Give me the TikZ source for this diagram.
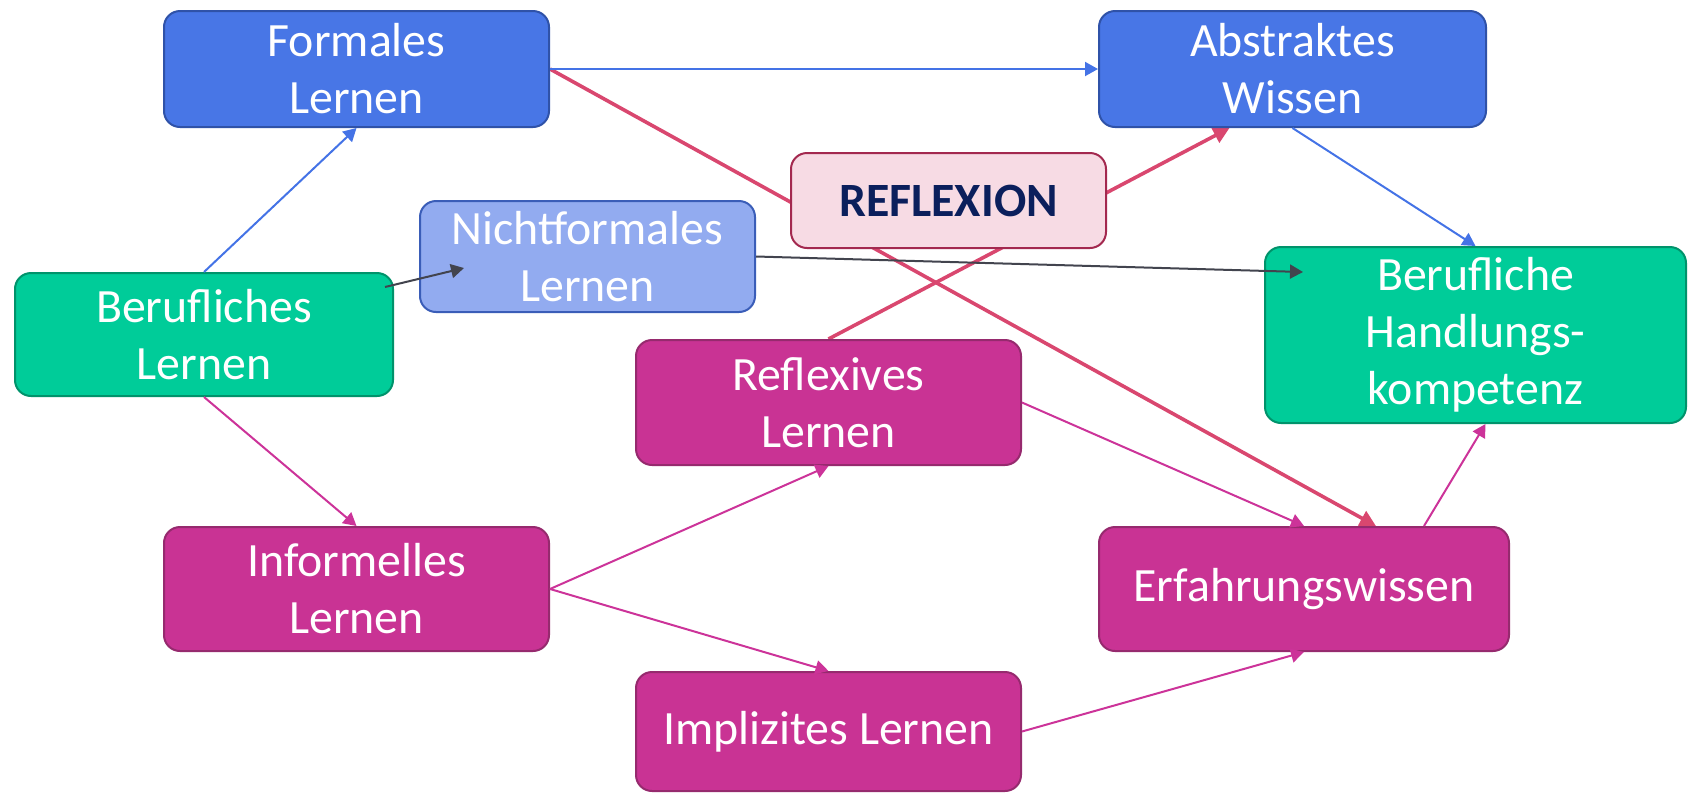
\documentclass[tikz,border=0pt]{standalone}
\usepackage{fontspec}
\setmainfont{Carlito}
\usetikzlibrary{arrows.meta,calc}
\definecolor{blueFill}{HTML}{4876E6}
\definecolor{blueDraw}{HTML}{2F52A8}
\definecolor{nichtFill}{HTML}{92ABF0}
\definecolor{nichtDraw}{HTML}{3A5DB8}
\definecolor{greenFill}{HTML}{00CC99}
\definecolor{greenDraw}{HTML}{00936B}
\definecolor{magFill}{HTML}{C93394}
\definecolor{magDraw}{HTML}{962A6E}
\definecolor{reflFill}{HTML}{F7DBE4}
\definecolor{reflDraw}{HTML}{A3294F}
\definecolor{reflText}{HTML}{0B1F5C}
\definecolor{crimsonLine}{HTML}{D9476F}
\definecolor{magLine}{HTML}{CC3399}
\definecolor{blueLine}{HTML}{4473E6}
\definecolor{grayLine}{HTML}{42444E}
\pgfdeclarelayer{background}
\pgfsetlayers{background,main}
\tikzset{
  box/.style={rounded corners=8pt, line width=1pt, inner sep=0pt, align=center,
    text=white, font=\fontsize{23.9}{28.5}\selectfont},
  bluebox/.style={box, fill=blueFill, draw=blueDraw},
  nichtbox/.style={box, fill=nichtFill, draw=nichtDraw},
  greenbox/.style={box, fill=greenFill, draw=greenDraw},
  magbox/.style={box, fill=magFill, draw=magDraw},
  reflbox/.style={box, fill=reflFill, draw=reflDraw, text=reflText, font=\fontsize{23.9}{28.5}\selectfont\bfseries},
  conn/.style={line width=1pt, -{Triangle[length=6.5pt,width=7pt]}},
  blueconn/.style={conn, draw=blueLine, fill=blueLine},
  magconn/.style={conn, draw=magLine, fill=magLine},
  grayconn/.style={conn, draw=grayLine, fill=grayLine},
  crimsonconn/.style={line width=1.8pt, draw=crimsonLine, fill=crimsonLine, -{Triangle[length=8pt,width=8pt]}}
}
\begin{document}
\begin{tikzpicture}[x=0.5pt,y=-0.5pt]
\useasboundingbox (0,0) rectangle (1688,794);

\node[bluebox, minimum width=192.5pt, minimum height=58pt] (formal) at (356.5,69) {Formales\\Lernen};
\node[bluebox, minimum width=193.5pt, minimum height=58pt] (abstr) at (1292.5,69) {Abstraktes\\Wissen};
\node[reflbox, minimum width=157.5pt, minimum height=47.5pt] (refl) at (948.5,200.5) {REFLEXION};
\node[nichtbox, minimum width=167.5pt, minimum height=55.5pt] (nicht) at (587.5,256.5) {Nichtformales\\Lernen};
\node[greenbox, minimum width=189pt, minimum height=61.5pt] (beruf) at (204,334.5) {Berufliches\\Lernen};
\node[greenbox, minimum width=210.5pt, minimum height=88pt] (hand) at (1475.5,335) {Berufliche\\Handlungs-\\kompetenz};
\node[magbox, minimum width=192.5pt, minimum height=62.5pt] (reflx) at (828.5,402.5) {Reflexives\\Lernen};
\node[magbox, minimum width=192.5pt, minimum height=62pt] (inform) at (356.5,589) {Informelles\\Lernen};
\node[magbox, minimum width=205pt, minimum height=62pt] (erf) at (1304,589) {Erfahrungswissen};
\node[magbox, minimum width=192.5pt, minimum height=59.5pt] (impl) at (828.5,731.5) {Implizites Lernen};

\begin{pgfonlayer}{background}
  \draw[crimsonconn] (formal.east) -- ($(erf.north)+(72,0)$);
  \draw[crimsonconn] (reflx.north) -- ($(abstr.south)+(-63,0)$);
\end{pgfonlayer}

\draw[blueconn] (beruf.north) -- (formal.south);
\draw[blueconn] (formal.east) -- (abstr.west);
\draw[blueconn] (abstr.south) -- (hand.north);
\draw[grayconn] ($(beruf.north east)+(-9,15)$) -- ($(nicht.west)+(45,11.5)$);
\draw[grayconn] (nicht.east) -- ($(hand.north west)+(39,26)$);
\draw[magconn] (beruf.south) -- (inform.north);
\draw[magconn] (inform.east) -- (reflx.south);
\draw[magconn] (inform.east) -- (impl.north);
\draw[magconn] (reflx.east) -- (erf.north);
\draw[magconn] (impl.east) -- (erf.south);
\draw[magconn] ($(erf.north)+(120,0)$) -- ($(hand.south)+(10,0)$);
\end{tikzpicture}
\end{document}
